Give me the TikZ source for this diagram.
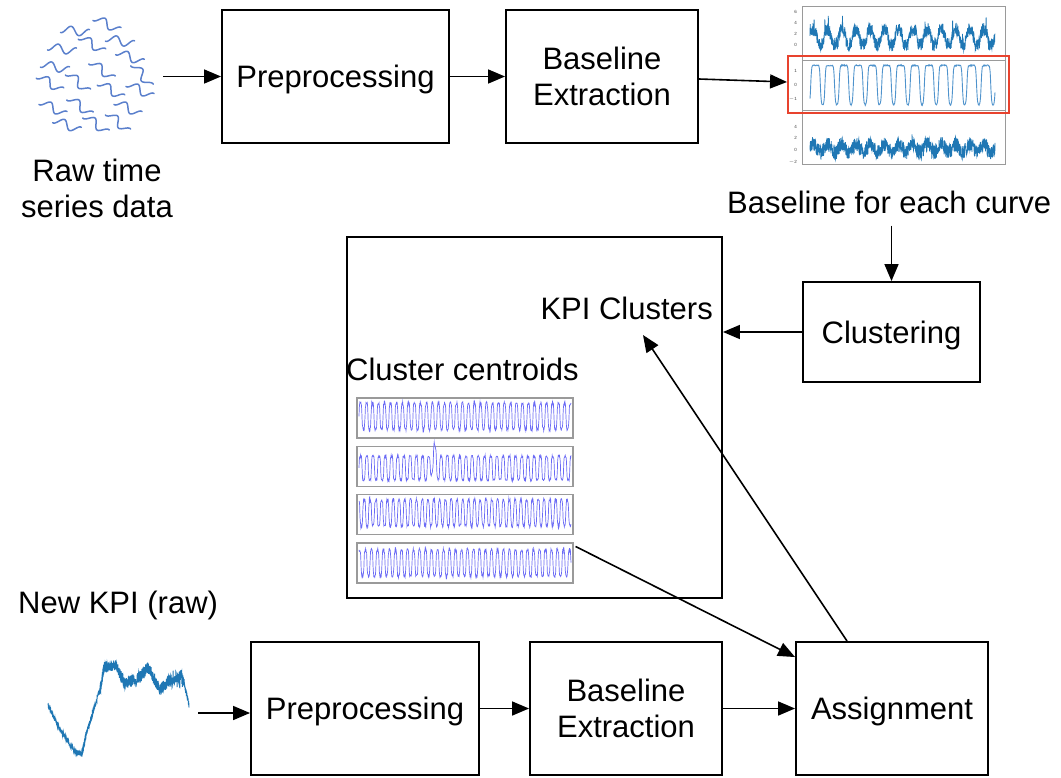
\documentclass[tikz,border=0pt]{standalone}
\usepackage{fontspec}
\setmainfont{Liberation Sans}
\usetikzlibrary{arrows.meta,calc}
\definecolor{mplblue}{HTML}{1F77B4}
\definecolor{mpllight}{HTML}{4F93CC}
\definecolor{sqc}{HTML}{5B80CC}
\definecolor{cenc}{HTML}{6A6AF5}
\definecolor{redc}{HTML}{E8432E}
\definecolor{framec}{HTML}{9A9A9A}
\newcommand\squig[3]{\draw[sq, shift={(#1,#2)}, rotate=#3] plot[domain=-14:14, samples=30, smooth] (\x,{4*sin(\x*20)});}
\newcommand\kseg[5]{-- plot[domain=#1:#3, samples=70] (\x,{#2+(#4-#2)*(\x-#1)/(#3-#1)+#5*rand})}
\begin{document}
\begin{tikzpicture}[x=1pt,y=-1pt,
  lbl/.style={font=\fontsize{31}{36}\selectfont, inner sep=0pt},
  box/.style={draw=black, line width=1.9pt, inner sep=0pt, text depth=0pt, align=center, font=\fontsize{31}{36}\selectfont},
  arr/.style={-{Triangle[length=17pt,width=14pt]}, line width=1.6pt},
  sq/.style={draw=sqc, line width=1.5pt, line cap=round},
  tick/.style={font=\fontsize{4.5}{5}\selectfont, text=black!75, inner sep=0pt, anchor=east},
  frame/.style={draw=framec, line width=0.9pt},
  cenbox/.style={draw=framec, line width=1.1pt, minimum width=216pt, minimum height=40pt, inner sep=0pt},
  cenline/.style={draw=cenc, line width=0.7pt},
]
\useasboundingbox (0,0) rectangle (1061,777);
\pgfmathsetseed{7}

% ---------- raw time series cloud ----------
\squig{107}{24}{-30}
\squig{75}{31}{-10}
\squig{92}{44}{-35}
\squig{120}{41}{-15}
\squig{62}{49}{-12}
\squig{130}{57}{-25}
\squig{55}{67}{-15}
\squig{102}{70}{-40}
\squig{142}{75}{-55}
\squig{50}{83}{-35}
\squig{78}{82}{-45}
\squig{111}{90}{-35}
\squig{140}{90}{-30}
\squig{53}{108}{-30}
\squig{80}{106}{-40}
\squig{128}{108}{-30}
\squig{67}{125}{-25}
\squig{96}{124}{-40}
\squig{118}{122}{-45}
\node[lbl, align=center] (rawlbl) at (97,188) {Raw time\\series data};
\coordinate (rawc) at (163,76.5);

% ---------- top row ----------
\node[box, minimum width=227pt, minimum height=133pt] (pre1) at (335.5,76.5) {Preprocessing};
\node[box, minimum width=192pt, minimum height=133pt] (base1) at (602,76.5) {Baseline\\Extraction};

% baseline plots (top right)
\draw[frame] (802,6) rectangle (1005,164);
\draw[frame] (802,60) rectangle (1005,110);
\draw[mplblue, line width=0.8pt] plot[domain=810:995, samples=900]
  (\x,{45-5.5*(1.4+1.4*tanh(2*sin((\x-810)/14.2*360))+1.2*rand+25*max(0,rand-0.93))});
\draw[mpllight, line width=0.9pt] plot[domain=810:995, samples=500]
  (\x,{85-14*(-0.1+1.5*tanh(3*(sin((\x-812)/14.2*360)+0.55))+0.04*rand)});
\draw[mplblue, line width=0.8pt] plot[domain=810:995, samples=900]
  (\x,{150-5.75*(0.3+0.7*sin((\x-810)/14.2*360)+1.3*rand+18*max(0,rand-0.94))});
\node[tick] (t1) at (797,12) {6};
\node[tick] (t2) at (797,23) {4};
\node[tick] (t3) at (797,34) {2};
\node[tick] (t4) at (797,45) {0};
\node[tick] (t5) at (797,71) {1};
\node[tick] (t6) at (797,85) {0};
\node[tick] (t7) at (797,99) {$-$1};
\node[tick] (t8) at (797,127) {4};
\node[tick] (t9) at (797,138) {2};
\node[tick] (t10) at (797,150) {0};
\node[tick] (t11) at (797,162) {$-$2};
\node[draw=redc, line width=1.9pt, minimum width=221pt, minimum height=57pt, inner sep=0pt] (redbox) at (898.5,84.5) {};

\node[lbl, anchor=base west] (bl) at (727,213) {Baseline for each curve};
\node[box, minimum width=177pt, minimum height=100pt] (clu) at (891.5,332) {Clustering};
\coordinate (blc) at ($(bl.south -| clu.north)+(0,12)$);

% ---------- big box ----------
\node[draw=black, line width=1.9pt, minimum width=375pt, minimum height=361pt, inner sep=0pt] (big) at (534.5,417.5) {};
\node[lbl, anchor=base east] (kpi) at (713,319) {KPI Clusters};
\node[lbl, anchor=base west] (cc) at (346,380) {Cluster centroids};
\node[cenbox] (cen1) at (465,418) {};
\node[cenbox] (cen2) at (465,466.5) {};
\node[cenbox] (cen3) at (465,514.5) {};
\node[cenbox] (cen4) at (465,563) {};
\draw[cenline] plot[domain=359:571, samples=700]
  (\x,{418-16*(0.1+0.85*tanh(2*sin((\x-359)/6*360))+0.1*rand)});
\draw[cenline] plot[domain=359:571, samples=700]
  (\x,{466.5-16*(-0.1+0.75*tanh(2.5*sin((\x-359)/6.2*360))+0.08*rand+0.9*max(0,1-abs(\x-434)/4))});
\draw[cenline] plot[domain=359:571, samples=700]
  (\x,{514.5-16*(0.1+0.85*tanh(2*sin((\x-357)/5.8*360))+0.1*rand)});
\draw[cenline] plot[domain=359:571, samples=700]
  (\x,{563-16*(0.0+0.85*tanh(2*sin((\x-358)/6.0*360))+0.1*rand)});

% ---------- bottom row ----------
\node[lbl, anchor=base west] (nk) at (18,613) {New KPI (raw)};
\draw[mplblue, line width=0.9pt] (48,705)
  \kseg{48}{705}{60}{730}{2}
  \kseg{60}{730}{75}{752}{2.5}
  \kseg{75}{752}{82}{754}{2.5}
  \kseg{82}{754}{86}{735}{3.5}
  \kseg{86}{735}{100}{690}{3}
  \kseg{100}{690}{104}{668}{5}
  \kseg{104}{668}{115}{664}{6}
  \kseg{115}{664}{125}{684}{6}
  \kseg{125}{684}{140}{677}{6}
  \kseg{140}{677}{148}{667}{6}
  \kseg{148}{667}{160}{690}{6}
  \kseg{160}{690}{170}{680}{6}
  \kseg{170}{680}{183}{678}{9}
  \kseg{183}{678}{189}{705}{3};
\coordinate (nkc) at (198,713);
\node[box, minimum width=228pt, minimum height=133pt] (pre2) at (365,708.5) {Preprocessing};
\node[box, minimum width=192pt, minimum height=133pt] (base2) at (626,708.5) {Baseline\\Extraction};
\node[box, minimum width=192pt, minimum height=133pt] (asg) at (892,708.5) {Assignment};

% ---------- connectors ----------
\draw[arr] (rawc) -- (pre1.west);
\draw[arr] (pre1.east) -- (base1.west);
\draw[arr] ($(base1.east)+(0,2.5)$) -- ($(redbox.west)+(0,-2.5)$);
\draw[arr] (blc) -- (clu.north);
\draw[arr] (clu.west) -- (clu.west -| big.east);
\draw[arr] ($(asg.north west)+(52,0)$) -- ($(kpi.base east)+(-70,16)$);
\draw[arr] ($(cen4.north east)+(2,4)$) -- ($(asg.north west)+(0,16)$);
\draw[arr] (nkc) -- (nkc -| pre2.west);
\draw[arr] (pre2.east) -- (base2.west);
\draw[arr] (base2.east) -- (asg.west);
\end{tikzpicture}
\end{document}
